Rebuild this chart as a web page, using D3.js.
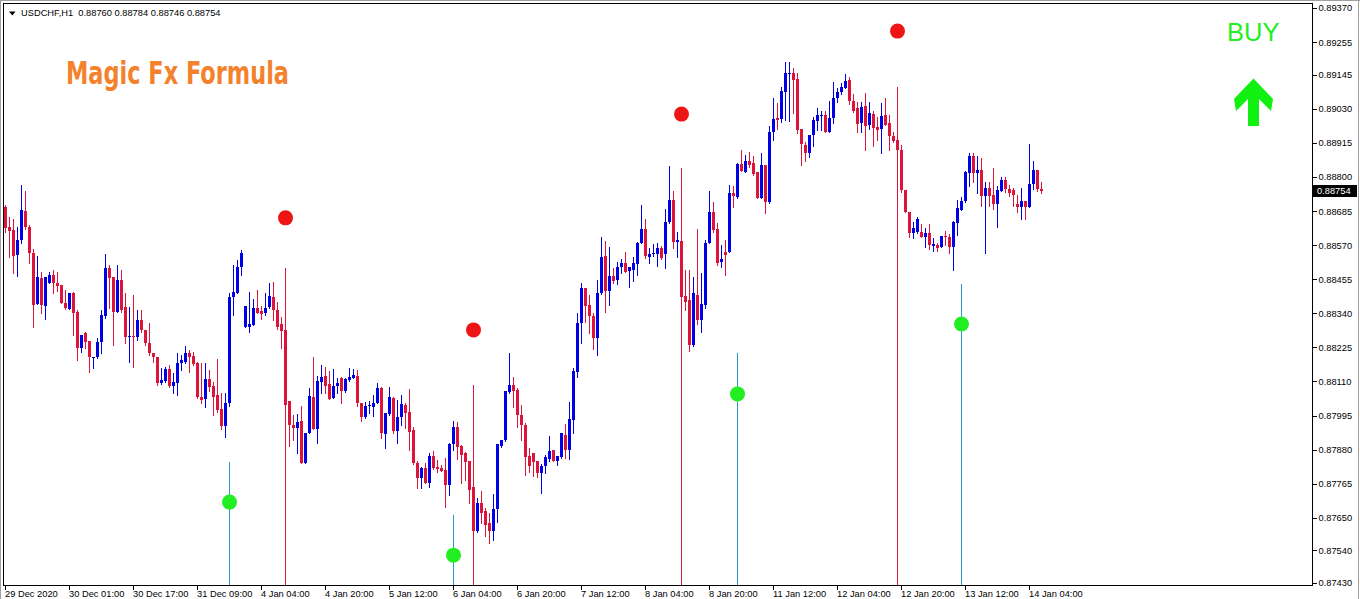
<!DOCTYPE html>
<html><head><meta charset="utf-8">
<script src="https://cdn.jsdelivr.net/npm/d3@7/dist/d3.min.js"></script>
<style>
html,body{margin:0;padding:0;background:#fff;overflow:hidden;}
svg{display:block;}
</style></head>
<body>
<svg id="chart" width="1360" height="599"></svg>
<script>
// ---------- DATA (prices) ----------
const symbolTitle = "USDCHF,H1  0.88760 0.88784 0.88746 0.88754";
const brandTitle = "Magic Fx Formula";
const signalText = "BUY";

const opens = [
0.88699,0.88631,0.88621,0.88537,0.88587,0.88685,0.88631,0.88543,0.88371,0.88459,
0.88365,0.88442,0.88469,0.88442,0.88435,0.88375,0.88354,0.88408,0.88344,0.88223,
0.88274,0.88246,0.88189,0.88193,0.88243,0.88331,0.88493,0.88462,0.88344,0.88452,
0.88361,0.88263,0.88263,0.88260,0.88317,0.88284,0.88240,0.88206,0.88193,0.88105,
0.88111,0.88152,0.88095,0.88105,0.88172,0.88176,0.88206,0.88196,0.88172,0.88058,
0.88051,0.88118,0.88095,0.88064,0.88017,0.87960,0.88037,0.88395,0.88408,0.88496,
0.88294,0.88294,0.88300,0.88358,0.88348,0.88341,0.88361,0.88395,0.88351,0.88304,
0.88284,0.88044,0.87963,0.87953,0.87977,0.87835,0.87936,0.88058,0.87950,0.88108,
0.88128,0.88101,0.88054,0.88095,0.88122,0.88078,0.88115,0.88122,0.88128,0.88037,
0.87990,0.88027,0.88024,0.88037,0.88088,0.87933,0.88000,0.88054,0.87943,0.87990,
0.88031,0.88007,0.87946,0.87835,0.87784,0.87818,0.87767,0.87858,0.87821,0.87818,
0.87811,0.87761,0.87899,0.87956,0.87892,0.87869,0.87842,0.87754,0.87605,0.87700,
0.87673,0.87632,0.87605,0.87680,0.87892,0.87912,0.88074,0.88098,0.88081,0.87997,
0.87963,0.87858,0.87869,0.87842,0.87801,0.87825,0.87848,0.87879,0.87842,0.87855,
0.87929,0.87879,0.87980,0.88142,0.88307,0.88425,0.88368,0.88331,0.88257,0.88408,
0.88533,0.88415,0.88466,0.88452,0.88496,0.88510,0.88483,0.88486,0.88506,0.88577,
0.88624,0.88530,0.88540,0.88540,0.88560,0.88540,0.88648,0.88722,0.88581,0.88584,
0.88398,0.88385,0.88233,0.88402,0.88317,0.88368,0.88577,0.88682,0.88624,0.88513,
0.88547,0.88547,0.88746,0.88732,0.88844,0.88817,0.88854,0.88847,0.88817,0.88729,
0.88840,0.88715,0.88952,0.88999,0.88996,0.89087,0.89151,0.89151,0.89130,0.88962,
0.88908,0.88881,0.88942,0.88989,0.89009,0.89009,0.88952,0.88999,0.89066,0.89087,
0.89100,0.89127,0.89056,0.89033,0.88982,0.89039,0.88975,0.89012,0.88968,0.88962,
0.89009,0.88982,0.88938,0.88925,0.88891,0.88756,0.88682,0.88611,0.88614,0.88614,
0.88597,0.88611,0.88567,0.88570,0.88564,0.88601,0.88597,0.88564,0.88645,0.88689,
0.88719,0.88813,0.88870,0.88813,0.88823,0.88736,0.88763,0.88739,0.88709,0.88753,
0.88790,0.88759,0.88756,0.88709,0.88699,0.88719,0.88699,0.88776,0.88823,0.88760];

const highs = [
0.88705,0.88665,0.88658,0.88631,0.88773,0.88753,0.88638,0.88557,0.88533,0.88479,
0.88462,0.88479,0.88486,0.88479,0.88435,0.88419,0.88408,0.88412,0.88351,0.88267,
0.88277,0.88246,0.88193,0.88257,0.88351,0.88540,0.88503,0.88462,0.88503,0.88486,
0.88408,0.88361,0.88402,0.88351,0.88351,0.88284,0.88307,0.88206,0.88193,0.88155,
0.88159,0.88166,0.88138,0.88206,0.88199,0.88230,0.88216,0.88209,0.88176,0.88172,
0.88172,0.88149,0.88108,0.88186,0.88071,0.88071,0.88408,0.88503,0.88520,0.88554,
0.88365,0.88412,0.88388,0.88419,0.88365,0.88408,0.88442,0.88446,0.88378,0.88328,
0.88284,0.88044,0.87997,0.88000,0.88027,0.87936,0.88088,0.88193,0.88128,0.88166,
0.88159,0.88145,0.88152,0.88122,0.88125,0.88122,0.88155,0.88152,0.88149,0.88037,
0.88041,0.88044,0.88064,0.88105,0.88091,0.88004,0.88091,0.88058,0.88047,0.88064,
0.88037,0.88085,0.87956,0.87842,0.87821,0.87835,0.87869,0.87875,0.87845,0.87828,
0.87852,0.87902,0.87977,0.87973,0.87896,0.87872,0.87842,0.87754,0.87717,0.87740,
0.87683,0.87666,0.87730,0.87899,0.87912,0.88078,0.88206,0.88125,0.88088,0.88031,
0.87970,0.87885,0.87869,0.87842,0.87832,0.87862,0.87926,0.87879,0.87858,0.87936,
0.87966,0.88041,0.88155,0.88341,0.88442,0.88425,0.88402,0.88341,0.88452,0.88597,
0.88584,0.88564,0.88493,0.88513,0.88523,0.88547,0.88496,0.88530,0.88581,0.88705,
0.88658,0.88560,0.88574,0.88577,0.88567,0.88692,0.88837,0.88753,0.88614,0.88584,
0.88486,0.88486,0.88462,0.88624,0.88476,0.88587,0.88753,0.88715,0.88645,0.88570,
0.88587,0.88773,0.88769,0.88847,0.88891,0.88874,0.88884,0.88870,0.88817,0.88881,
0.88840,0.88972,0.89066,0.89050,0.89104,0.89188,0.89188,0.89168,0.89151,0.88962,
0.88918,0.88942,0.89002,0.89033,0.89022,0.89022,0.89056,0.89120,0.89100,0.89117,
0.89147,0.89137,0.89080,0.89053,0.89053,0.89083,0.89053,0.89022,0.89002,0.89050,
0.89066,0.89009,0.88952,0.88925,0.88908,0.88756,0.88682,0.88648,0.88665,0.88641,
0.88628,0.88641,0.88594,0.88577,0.88601,0.88618,0.88608,0.88651,0.88722,0.88732,
0.88820,0.88881,0.88881,0.88870,0.88864,0.88783,0.88783,0.88830,0.88769,0.88800,
0.88800,0.88773,0.88763,0.88739,0.88763,0.88719,0.88911,0.88854,0.88823,0.88784];

const lows = [
0.88614,0.88530,0.88476,0.88466,0.88577,0.88624,0.88510,0.88294,0.88371,0.88341,
0.88321,0.88442,0.88408,0.88415,0.88375,0.88354,0.88354,0.88267,0.88182,0.88209,
0.88223,0.88142,0.88155,0.88189,0.88206,0.88324,0.88358,0.88233,0.88344,0.88344,
0.88240,0.88176,0.88159,0.88250,0.88277,0.88233,0.88199,0.88176,0.88098,0.88101,
0.88108,0.88091,0.88071,0.88064,0.88149,0.88172,0.88142,0.88166,0.88054,0.88037,
0.88024,0.88078,0.87997,0.88007,0.87950,0.87923,0.88027,0.88334,0.88408,0.88469,
0.88294,0.88277,0.88300,0.88341,0.88321,0.88334,0.88358,0.88317,0.88287,0.88223,
0.88014,0.87892,0.87912,0.87869,0.87835,0.87835,0.87936,0.88047,0.87902,0.88071,
0.88071,0.88051,0.88054,0.88071,0.88037,0.88074,0.88111,0.88122,0.88027,0.87977,
0.87987,0.88004,0.87993,0.88037,0.87919,0.87885,0.87997,0.87936,0.87902,0.87963,
0.87953,0.87879,0.87832,0.87751,0.87751,0.87767,0.87754,0.87815,0.87805,0.87808,
0.87686,0.87727,0.87879,0.87848,0.87767,0.87778,0.87700,0.87541,0.87602,0.87632,
0.87589,0.87565,0.87575,0.87636,0.87889,0.87909,0.88071,0.88024,0.87956,0.87912,
0.87794,0.87805,0.87791,0.87788,0.87734,0.87801,0.87842,0.87842,0.87828,0.87852,
0.87852,0.87848,0.87936,0.88125,0.88240,0.88311,0.88274,0.88219,0.88199,0.88405,
0.88344,0.88368,0.88442,0.88439,0.88476,0.88479,0.88429,0.88449,0.88469,0.88577,
0.88527,0.88510,0.88533,0.88500,0.88523,0.88493,0.88645,0.88560,0.88530,0.88351,
0.88351,0.88213,0.88230,0.88304,0.88277,0.88358,0.88577,0.88614,0.88503,0.88496,
0.88469,0.88547,0.88699,0.88729,0.88820,0.88817,0.88834,0.88807,0.88729,0.88729,
0.88678,0.88712,0.88925,0.88962,0.88985,0.88992,0.88989,0.89016,0.88948,0.88840,
0.88854,0.88867,0.88904,0.88958,0.88958,0.88952,0.88952,0.88982,0.89053,0.89080,
0.89100,0.89046,0.89019,0.88952,0.88952,0.88891,0.88962,0.88904,0.88925,0.88881,
0.88975,0.88891,0.88918,0.88884,0.88749,0.88682,0.88597,0.88594,0.88611,0.88597,
0.88564,0.88557,0.88550,0.88550,0.88564,0.88570,0.88543,0.88486,0.88604,0.88689,
0.88715,0.88769,0.88783,0.88746,0.88702,0.88543,0.88702,0.88692,0.88631,0.88753,
0.88749,0.88736,0.88702,0.88682,0.88658,0.88658,0.88699,0.88759,0.88753,0.88746];

const closes = [
0.88628,0.88618,0.88533,0.88587,0.88688,0.88631,0.88543,0.88368,0.88462,0.88368,
0.88462,0.88469,0.88442,0.88432,0.88375,0.88358,0.88408,0.88341,0.88223,0.88267,
0.88243,0.88193,0.88193,0.88243,0.88334,0.88493,0.88459,0.88344,0.88452,0.88351,
0.88260,0.88263,0.88260,0.88317,0.88284,0.88240,0.88206,0.88193,0.88105,0.88115,
0.88152,0.88095,0.88108,0.88172,0.88182,0.88206,0.88193,0.88169,0.88058,0.88047,
0.88118,0.88091,0.88058,0.88014,0.87960,0.88037,0.88395,0.88412,0.88496,0.88543,
0.88365,0.88304,0.88358,0.88341,0.88338,0.88358,0.88398,0.88351,0.88294,0.88280,
0.88031,0.87963,0.87953,0.87973,0.87835,0.87936,0.88061,0.87950,0.88111,0.88125,
0.88095,0.88051,0.88095,0.88105,0.88078,0.88118,0.88125,0.88132,0.88037,0.87990,
0.88027,0.88031,0.88037,0.88088,0.87936,0.88004,0.88058,0.87943,0.87990,0.88034,
0.88004,0.87940,0.87835,0.87784,0.87818,0.87767,0.87858,0.87818,0.87815,0.87808,
0.87761,0.87899,0.87956,0.87889,0.87862,0.87838,0.87744,0.87605,0.87700,0.87666,
0.87626,0.87605,0.87680,0.87899,0.87912,0.88078,0.88098,0.88078,0.87997,0.87963,
0.87855,0.87825,0.87838,0.87801,0.87825,0.87855,0.87875,0.87842,0.87858,0.87936,
0.87879,0.87983,0.88145,0.88307,0.88425,0.88365,0.88331,0.88257,0.88408,0.88530,
0.88415,0.88466,0.88449,0.88496,0.88510,0.88479,0.88496,0.88510,0.88577,0.88624,
0.88533,0.88540,0.88543,0.88560,0.88527,0.88648,0.88722,0.88581,0.88587,0.88395,
0.88378,0.88233,0.88408,0.88317,0.88371,0.88577,0.88682,0.88621,0.88510,0.88523,
0.88537,0.88746,0.88736,0.88844,0.88820,0.88854,0.88840,0.88810,0.88729,0.88840,
0.88715,0.88952,0.88996,0.88992,0.89090,0.89151,0.89152,0.89127,0.88958,0.88911,
0.88881,0.88942,0.88992,0.89009,0.89010,0.88952,0.88999,0.89066,0.89087,0.89104,
0.89124,0.89056,0.89022,0.88979,0.89036,0.88972,0.89016,0.88965,0.88958,0.89006,
0.88975,0.88938,0.88921,0.88891,0.88756,0.88682,0.88611,0.88628,0.88658,0.88597,
0.88611,0.88570,0.88574,0.88560,0.88601,0.88597,0.88564,0.88648,0.88695,0.88719,
0.88817,0.88870,0.88813,0.88823,0.88736,0.88763,0.88736,0.88709,0.88756,0.88790,
0.88759,0.88746,0.88739,0.88699,0.88719,0.88699,0.88776,0.88823,0.88759,0.88754];

// Sell signals (red): bar index, dot price, top of the vertical line
const sellIdx = [70, 117, 169, 223];
const sellDot = [0.88662, 0.88284, 0.89012, 0.89292];
const sellLineTop = [0.88493, 0.88098, 0.88830, 0.89103];
// Buy signals (green dot / cyan line)
const buyIdx = [56, 112, 183, 239];
const buyDot = [0.87703, 0.87524, 0.88068, 0.88304];
const buyLineTop = [0.87838, 0.87659, 0.88206, 0.88439];

// Axis ticks
const priceTicks = [0.89370,0.89255,0.89145,0.89030,0.88915,0.88800,0.88685,0.88570,0.88455,
  0.88340,0.88225,0.88110,0.87995,0.87880,0.87765,0.87650,0.87540,0.87430];
const timeTickIdx = [0,16,32,48,64,80,96,112,128,144,160,176,192,208,224,240,256];
const timeTickLabels = ["29 Dec 2020","30 Dec 01:00","30 Dec 17:00","31 Dec 09:00","4 Jan 04:00",
  "4 Jan 20:00","5 Jan 12:00","6 Jan 04:00","6 Jan 20:00","7 Jan 12:00","8 Jan 04:00","8 Jan 20:00",
  "11 Jan 12:00","12 Jan 04:00","12 Jan 20:00","13 Jan 12:00","14 Jan 04:00"];

// ---------- DRAW ----------
const svg = d3.select("#chart");
const plot = {left: 3, top: 3, right: 1312, bottom: 585};
const UP = "#0000e6", DOWN = "#dc143c", CYAN = "#2b9ac8";
const FONT = "'Liberation Sans', Arial, sans-serif";

const x = d3.scaleLinear().domain([0, closes.length - 1]).range([5, 5 + 4 * (closes.length - 1)]);
const y = d3.scaleLinear().domain([0.87430, 0.89370]).range([583, 8]);

svg.append("rect").attr("width", 1360).attr("height", 599).attr("fill", "#fff");
// outer window lines
svg.append("line").attr("x1",0).attr("x2",1360).attr("y1",0.5).attr("y2",0.5).attr("stroke","#a0a0a0");
svg.append("line").attr("x1",0.5).attr("x2",0.5).attr("y1",0).attr("y2",599).attr("stroke","#a0a0a0");
svg.append("line").attr("x1",1358.5).attr("x2",1358.5).attr("y1",0).attr("y2",599).attr("stroke","#a0a0a0");

// frame
svg.append("rect")
  .attr("x", plot.left + 0.5).attr("y", plot.top + 0.5)
  .attr("width", plot.right - plot.left).attr("height", plot.bottom - plot.top)
  .attr("fill", "none").attr("stroke", "#000").attr("shape-rendering", "crispEdges");

// price axis
const yAxis = d3.axisRight(y).tickValues(priceTicks).tickSize(4).tickPadding(2)
  .tickFormat(d3.format(".5f"));
const ya = svg.append("g").attr("transform", `translate(${plot.right + 0.5},0)`).call(yAxis);
ya.select(".domain").remove();
ya.selectAll("line").attr("stroke", "#000").attr("shape-rendering", "crispEdges");
ya.selectAll("text").attr("font-family", FONT).attr("font-size", "9.3px").attr("fill", "#000");

// time axis
const ta = svg.append("g");
timeTickIdx.forEach((idx, k) => {
  const tx = Math.round(x(idx));
  ta.append("rect").attr("x", tx).attr("width", 1).attr("y", plot.bottom).attr("height", 5).attr("fill", "#000");
  ta.append("text").attr("x", tx).attr("y", 597).text(timeTickLabels[k])
    .attr("font-family", FONT).attr("font-size", "9.3px").attr("fill", "#000");
});

const g = svg.append("g").attr("shape-rendering", "crispEdges");

// signal lines (1px columns)
sellIdx.forEach((idx, k) => {
  const top = Math.round(y(sellLineTop[k]));
  g.append("rect").attr("x", Math.round(x(idx))).attr("width", 1)
    .attr("y", top).attr("height", plot.bottom - top).attr("fill", DOWN);
});
buyIdx.forEach((idx, k) => {
  const top = Math.round(y(buyLineTop[k]));
  g.append("rect").attr("x", Math.round(x(idx))).attr("width", 1)
    .attr("y", top).attr("height", plot.bottom - top).attr("fill", CYAN);
});

// candles
closes.forEach((c, i) => {
  const o = opens[i], h = highs[i], l = lows[i];
  const col = c >= o ? UP : DOWN;
  const cx = Math.round(x(i));
  const yTop = Math.round(y(Math.max(o, c))), yBot = Math.round(y(Math.min(o, c)));
  const wTop = Math.min(Math.round(y(h)), yTop), wBot = Math.max(Math.round(y(l)), yBot) + 1;
  g.append("rect").attr("x", cx).attr("width", 1).attr("y", wTop).attr("height", wBot - wTop).attr("fill", col);
  g.append("rect").attr("x", cx - 1).attr("width", 3)
    .attr("y", yTop).attr("height", Math.max(1, yBot - yTop)).attr("fill", col);
});

// dots
sellIdx.forEach((idx, k) => {
  svg.append("circle").attr("cx", x(idx) + 0.5).attr("cy", y(sellDot[k])).attr("r", 7.5).attr("fill", "#ee1515");
});
buyIdx.forEach((idx, k) => {
  svg.append("circle").attr("cx", x(idx) + 0.5).attr("cy", y(buyDot[k])).attr("r", 7.5).attr("fill", "#22ee22");
});

// last price label
const lastC = closes[closes.length - 1];
svg.append("rect").attr("x", plot.right + 1).attr("y", Math.round(y(lastC)) - 6)
  .attr("width", 44).attr("height", 12).attr("fill", "#000");
svg.append("text").attr("x", plot.right + 5).attr("y", y(lastC)).attr("dy", "0.35em")
  .text(d3.format(".5f")(lastC)).attr("font-family", FONT).attr("font-size", "9.3px").attr("fill", "#fff");

// header text
svg.append("path").attr("d", "M9,11.5 L15.5,11.5 L12.25,15.5 Z").attr("fill", "#000");
svg.append("text").attr("x", 21).attr("y", 16).text(symbolTitle)
  .attr("font-family", FONT).attr("font-size", "9.3px").attr("fill", "#000")
  .attr("xml:space", "preserve").style("white-space", "pre");

svg.append("text").attr("x", 66).attr("y", 83.5).text(brandTitle)
  .attr("font-family", "'Liberation Sans Narrow','DejaVu Sans Condensed','Roboto Condensed',sans-serif")
  .attr("font-weight", "bold").attr("font-size", "32px").attr("fill", "#f4812b")
  .attr("textLength", 223).attr("lengthAdjust", "spacingAndGlyphs");

// BUY sign
svg.append("text").attr("x", 1227).attr("y", 41).text(signalText)
  .attr("font-family", FONT).attr("font-size", "25.5px").attr("fill", "#22ee22");
svg.append("path")
  .attr("d", "M1253.5,78.5 L1273,99 L1271,111 L1259,99 L1259,126 L1248,126 L1248,99 L1236,111 L1234,99 Z")
  .attr("fill", "#11f011");
</script>
</body></html>
